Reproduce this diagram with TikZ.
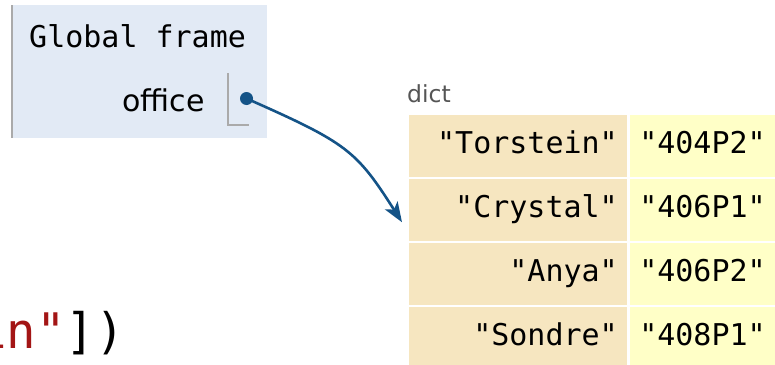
\documentclass[tikz,border=0pt]{standalone}
\usepackage{fontspec}
\setsansfont{DejaVu Sans}
\setmonofont{DejaVu Sans Mono}
\usetikzlibrary{arrows.meta}
\usetikzlibrary{positioning}

\definecolor{framebg}{RGB}{226,234,245}
\definecolor{framerule}{RGB}{170,170,170}
\definecolor{keybg}{RGB}{246,230,192}
\definecolor{valbg}{RGB}{255,255,199}
\definecolor{ptrblue}{RGB}{20,83,135}
\definecolor{dictgray}{RGB}{85,85,85}
\definecolor{codered}{RGB}{163,21,21}

\tikzset{
    framebox/.style={rectangle, fill=framebg, inner sep=0pt, anchor=north west},
    monotext/.style={font=\ttfamily\fontsize{30}{36}\selectfont},
    keycell/.style={rectangle, anchor=north west, fill=keybg, draw=white, line width=1.5pt,
        minimum height=64pt, text width=200pt, inner xsep=10pt, align=right,
        text height=22pt, text depth=6pt, monotext},
    valcell/.style={rectangle, fill=valbg, draw=white, line width=1.5pt,
        minimum height=64pt, text width=128pt, inner xsep=10pt, align=left,
        text height=22pt, text depth=6pt, monotext},
    ptrdot/.style={circle, fill=ptrblue, inner sep=0pt, minimum size=13pt},
    ptrline/.style={draw=ptrblue, line width=2.6pt},
}

\begin{document}
\begin{tikzpicture}[x=1pt, y=-1pt, >={Stealth[length=20pt, width=15pt, inset=5pt]}]
    \useasboundingbox (0,0) rectangle (775,364);
    \clip (0,0) rectangle (775,364);

    % Global frame
    \node[framebox, minimum width=255pt, minimum height=133pt] (frame) at (12,5) {};
    \draw[framerule, line width=2.5pt] (frame.north west) -- (frame.south west);
    \node[anchor=base west, inner sep=0pt, monotext] (ftitle) at (29,47) {Global frame};
    \node[anchor=base east, inner sep=0pt, font=\sffamily\fontsize{30}{36}\selectfont] (varname) at (205,111) {office};

    % pointer slot
    \draw[framerule, line width=1.2pt] (228,73) -- (228,125) -- (249,125);
    \node[ptrdot] (ptr) at (246.5,98.5) {};

    % dict object
    \node[anchor=base west, text=dictgray, inner sep=0pt,
          font=\sffamily\fontsize{23.5}{28}\selectfont] (dictlbl) at (407,102) {dict};
    \foreach \k/\v [count=\i] in {Torstein/404P2, Crystal/406P1, Anya/406P2, Sondre/408P1} {
        \node[keycell] (k\i) at (407,{113+64*(\i-1)}) {"\k"};
        \node[valcell, right=0pt of k\i] (v\i) {"\v"};
    }

    % reference
    \draw[ptrline, ->] (ptr.center) .. controls (347,143) and (356,150) .. ([xshift=-5pt, yshift=-12.5pt]k2.west);

    % tail of the code line
    \node[anchor=base west, inner sep=0pt, font=\ttfamily\fontsize{49}{56}\selectfont] (codetail) at (-23,348)
        {\textcolor{codered}{in"}])};

\end{tikzpicture}
\end{document}
